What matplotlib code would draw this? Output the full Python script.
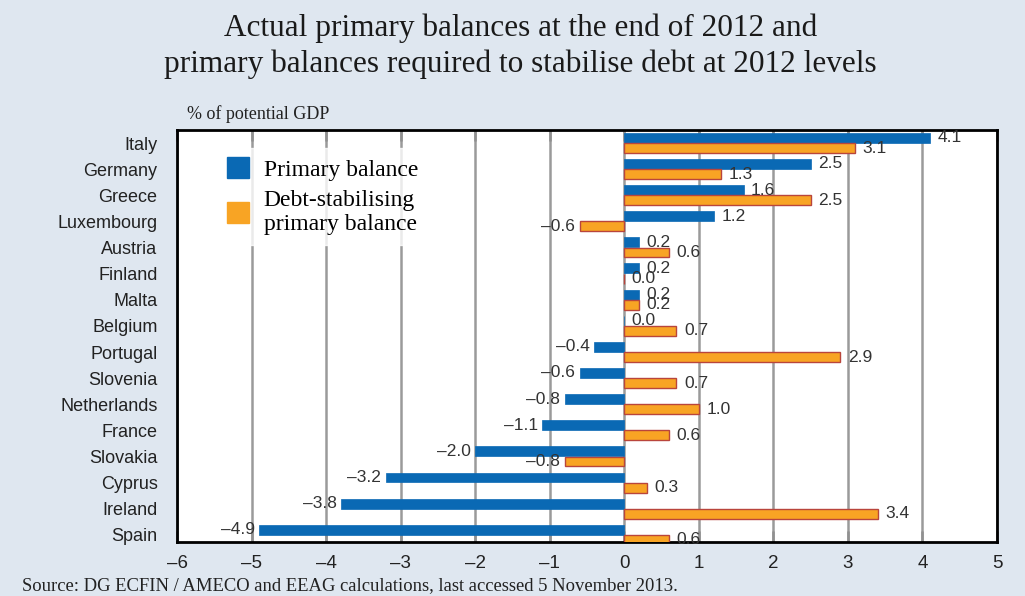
import numpy as np
import matplotlib.pyplot as plt
from matplotlib.patches import Patch

countries = ['Italy', 'Germany', 'Greece', 'Luxembourg', 'Austria', 'Finland', 'Malta',
             'Belgium', 'Portugal', 'Slovenia', 'Netherlands', 'France', 'Slovakia',
             'Cyprus', 'Ireland', 'Spain']
primary = [4.1, 2.5, 1.6, 1.2, 0.2, 0.2, 0.2, 0.0, -0.4, -0.6, -0.8, -1.1, -2.0, -3.2, -3.8, -4.9]
debt_stab = [3.1, 1.3, 2.5, -0.6, 0.6, 0.0, 0.2, 0.7, 2.9, 0.7, 1.0, 0.6, -0.8, 0.3, 3.4, 0.6]
xticks = [-6, -5, -4, -3, -2, -1, 0, 1, 2, 3, 4, 5]

blue = '#0a69b4'
orange = '#f8a424'
bg = '#dfe7f0'

fig = plt.figure(figsize=(10.25, 5.96), dpi=100, facecolor=bg)
ax = fig.add_axes([0.1727, 0.0906, 0.8, 0.6913])

y = np.arange(len(countries))
h = 0.38
ax.barh(y - 0.2, primary, height=h, color=blue, edgecolor=blue, linewidth=0.5, zorder=3)
ax.barh(y + 0.19, debt_stab, height=h, color=orange, edgecolor='#b9453c', linewidth=1.0, zorder=3)


def fmt(v):
    return f'{v:.1f}'.replace('-', '\u2013')


for yy, v in zip(y - 0.2, primary):
    off = 0.1 if v >= 0 else -0.06
    ax.text(v + off, yy, fmt(v), ha='left' if v >= 0 else 'right', va='center',
            fontsize=12.5, color='#333333', family='Liberation Sans', zorder=4)
for yy, v in zip(y + 0.19, debt_stab):
    off = 0.1 if v >= 0 else -0.06
    ax.text(v + off, yy, fmt(v), ha='left' if v >= 0 else 'right', va='center',
            fontsize=12.5, color='#333333', family='Liberation Sans', zorder=4)

ax.set_xlim(-6, 5)
ax.set_ylim(15.27, -0.5)
ax.set_xticks(xticks)
ax.set_xticklabels([str(t).replace('-', '\u2013') for t in xticks],
                   fontsize=13.5, family='Liberation Sans', color='#222222')
ax.set_yticks(y)
ax.set_yticklabels(countries, fontsize=13, family='Liberation Sans', color='#222222')
ax.tick_params(axis='y', length=0, pad=14)
ax.tick_params(axis='x', direction='in', top=True, length=8, width=1.8, color='#909090', pad=9)
ax.grid(axis='x', color='#9a9a9a', linewidth=1.8, zorder=1)
ax.set_axisbelow(True)
for s in ax.spines.values():
    s.set_linewidth(2)
    s.set_color('black')

handles = [Patch(facecolor=blue, edgecolor=blue),
           Patch(facecolor=orange, edgecolor=orange)]
leg = ax.legend(handles, ['Primary balance', 'Debt-stabilising\nprimary balance'],
                loc='upper left', bbox_to_anchor=(0.035, 0.985), frameon=True,
                prop={'family': 'Liberation Serif', 'size': 17},
                handlelength=0.95, handleheight=0.95, handletextpad=0.6,
                labelspacing=0.4, borderpad=0.4, fancybox=False)
leg.get_frame().set_facecolor('white')
leg.get_frame().set_edgecolor('white')
leg.set_zorder(5)

fig.text(0.508, 0.977, 'Actual primary balances at the end of 2012 and\n'
         'primary balances required to stabilise debt at 2012 levels',
         ha='center', va='top', fontsize=22.5, family='Liberation Serif',
         color='#1a1a1a', linespacing=1.3)
fig.text(0.182, 0.808, '% of potential GDP', ha='left', va='center', fontsize=13,
         family='Liberation Serif', color='#222222')
fig.text(0.021, 0.018, 'Source: DG ECFIN / AMECO and EEAG calculations, last accessed 5 November 2013.',
         ha='left', va='center', fontsize=13.4, family='Liberation Serif', color='#222222')

fig.savefig('out.png', dpi=100, facecolor=bg)
